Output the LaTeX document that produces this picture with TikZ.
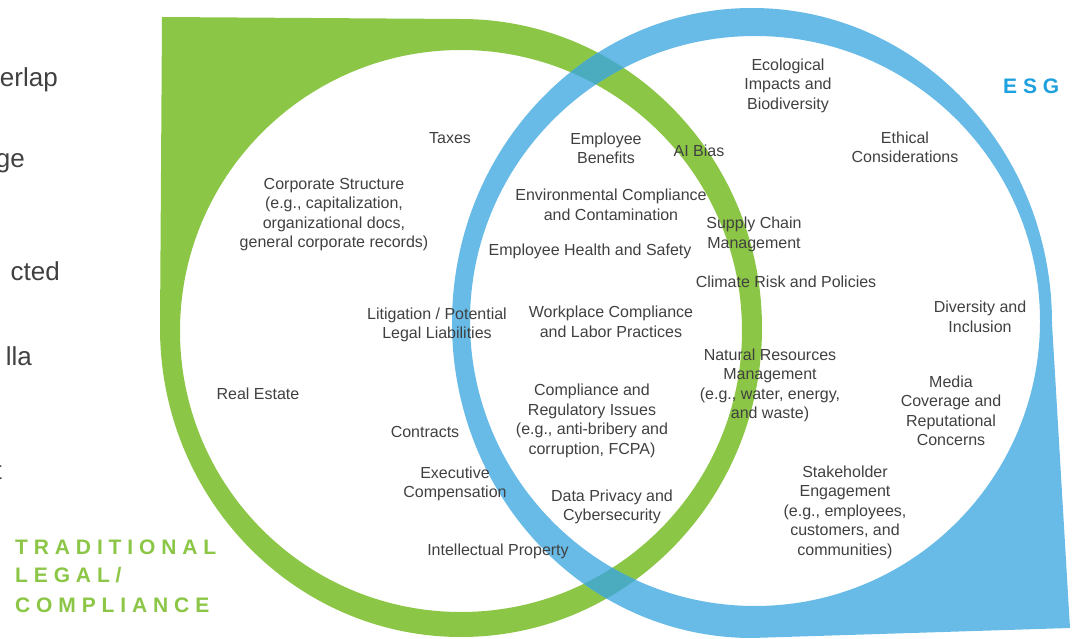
\documentclass[tikz,border=0pt]{standalone}
\usepackage{fontspec}
\setmainfont{Liberation Sans}
\newfontfamily\spaced[LetterSpace=28]{Liberation Sans}
\definecolor{gring}{RGB}{140,198,70}
\definecolor{bring}{RGB}{104,187,231}
\definecolor{overlap}{RGB}{74,172,190}
\definecolor{txt}{RGB}{64,64,64}
\definecolor{esgblue}{RGB}{30,160,222}
\tikzset{
  lbl/.style={font=\fontsize{16}{19.5}\selectfont, text=txt, align=center, inner sep=0pt},
  cut/.style={font=\fontsize{26}{30}\selectfont, text=txt, inner sep=0pt, anchor=base east},
  ttl/.style={font=\fontsize{21}{24}\selectfont\spaced\bfseries, inner sep=0pt, anchor=base west},
  greenring/.style={fill=gring, even odd rule},
  bluering/.style={fill=bring, even odd rule}
}
\begin{document}
\begin{tikzpicture}[x=1pt,y=-1pt]
\useasboundingbox (0,0) rectangle (1072,639);
% green teardrop ring
\fill[greenring] (162,17) -- (160,328) arc[start angle=180,end angle=-90,x radius=301,y radius=309] -- cycle
  (461,331) circle[radius=281];
% blue teardrop ring
\fill[bluering] (1070,628) -- (1052,323) arc[start angle=0,end angle=-270,x radius=300,y radius=315] -- cycle
  (755,321) circle[radius=285];
% overlap
\begin{scope}[even odd rule]
\clip (162,17) -- (160,328) arc[start angle=180,end angle=-90,x radius=301,y radius=309] -- cycle
  (461,331) circle[radius=281];
\fill[fill=overlap] (1070,628) -- (1052,323) arc[start angle=0,end angle=-270,x radius=300,y radius=315] -- cycle
  (755,321) circle[radius=285];
\end{scope}
% cut-off text on the left
\node[cut] (c1) at (58,87) {erlap};
\node[cut] (c2) at (25,168) {ge};
\node[cut] (c3) at (60,281) {cted};
\node[cut] (c4) at (32,366) {lla};
\node[cut] (c5) at (2,479) {t};
% titles
\node[ttl, text=gring] (t1) at (15,554) {TRADITIONAL};
\node[ttl, text=gring] (t2) at (15,582) {LEGAL/};
\node[ttl, text=gring] (t3) at (15,612) {COMPLIANCE};
\node[ttl, text=esgblue] (esg) at (1003,94) {ESG};
% labels
\begin{scope}[shift={(0,1.5)}]
\node[lbl] (eco) at (788,84) {Ecological\\Impacts and\\Biodiversity};
\node[lbl] (tax) at (450,137) {Taxes};
\node[lbl] (eb) at (606,147) {Employee\\Benefits};
\node[lbl] (ai) at (699,149) {AI Bias};
\node[lbl] (eth) at (905,146) {Ethical\\Considerations};
\node[lbl] (cs) at (334,213) {Corporate Structure\\(e.g., capitalization,\\organizational docs,\\general corporate records)};
\node[lbl] (env) at (611,203.5) {Environmental Compliance\\and Contamination};
\node[lbl] (sc) at (754,233) {Supply Chain\\Management};
\node[lbl] (ehs) at (590,250) {Employee Health and Safety};
\node[lbl] (cr) at (786,280) {Climate Risk and Policies};
\node[lbl] (div) at (980,315.5) {Diversity and\\Inclusion};
\node[lbl] (lit) at (437,323.5) {Litigation / Potential\\Legal Liabilities};
\node[lbl] (wp) at (611,320.5) {Workplace Compliance\\and Labor Practices};
\node[lbl] (nr) at (770,384) {Natural Resources\\Management\\(e.g., water, energy,\\and waste)};
\node[lbl] (re) at (258,392) {Real Estate};
\node[lbl] (med) at (951,409.5) {Media\\Coverage and\\Reputational\\Concerns};
\node[lbl] (cri) at (592,419.5) {Compliance and\\Regulatory Issues\\(e.g., anti-bribery and\\corruption, FCPA)};
\node[lbl] (con) at (425,430) {Contracts};
\node[lbl] (exe) at (455,482.5) {Executive\\Compensation};
\node[lbl] (stk) at (845,510.5) {Stakeholder\\Engagement\\(e.g., employees,\\customers, and\\communities)};
\node[lbl] (dp) at (612,505.5) {Data Privacy and\\Cybersecurity};
\node[lbl] (ip) at (498,550) {Intellectual Property};
\end{scope}
\end{tikzpicture}
\end{document}
